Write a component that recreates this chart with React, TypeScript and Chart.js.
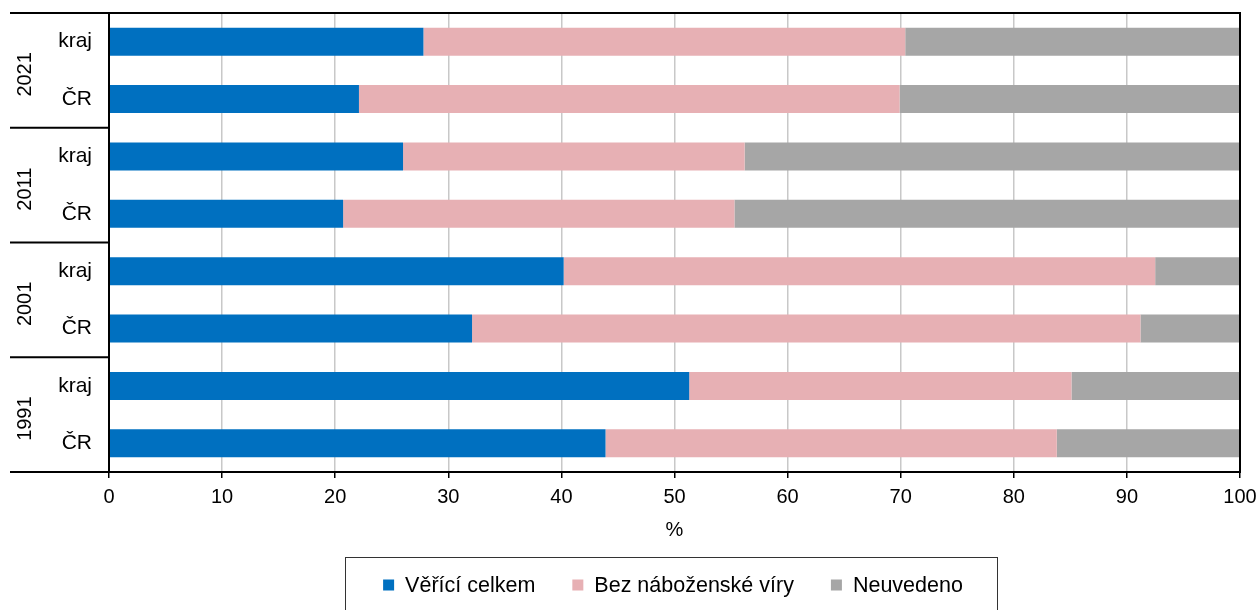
import React, { useEffect, useRef } from "react";
import { Chart, registerables } from "chart.js";

Chart.register(...registerables);

const categories = ["kraj", "ČR", "kraj", "ČR", "kraj", "ČR", "kraj", "ČR"];
const years = ["2021", "2011", "2001", "1991"];
const believers = [27.8, 22.1, 26.0, 20.7, 40.2, 32.1, 51.3, 43.9];
const noReligion = [42.6, 47.8, 30.2, 34.6, 52.3, 59.1, 33.8, 39.9];
const notStated = [29.6, 30.1, 43.8, 44.7, 7.5, 8.8, 14.9, 16.2];
const seriesNames = ["Věřící celkem", "Bez náboženské víry", "Neuvedeno"];
const seriesColors = ["#0070C0", "#E7B0B4", "#A6A6A6"];
const axisTitle = "%";

const FONT = '"Liberation Sans", Arial, sans-serif';

const decorPlugin = {
  id: "decor",
  afterDraw(chart: any) {
    const { ctx, chartArea: a } = chart;
    const y = chart.scales.y;
    ctx.save();
    // frame
    ctx.strokeStyle = "#000";
    ctx.lineWidth = 2;
    ctx.strokeRect(a.left, a.top, a.right - a.left, a.bottom - a.top);
    // group separators
    const groupEdge = (g: number) =>
      g === 0 ? a.top : g === years.length ? a.bottom : y.getPixelForValue(g * 2 - 0.5);
    ctx.beginPath();
    for (let g = 0; g <= years.length; g++) {
      const yy = groupEdge(g);
      ctx.moveTo(10, yy);
      ctx.lineTo(a.left, yy);
    }
    ctx.stroke();
    // year labels
    ctx.fillStyle = "#000";
    ctx.font = `20px ${FONT}`;
    ctx.textAlign = "center";
    ctx.textBaseline = "middle";
    years.forEach((yr, g) => {
      const mid = (groupEdge(g) + groupEdge(g + 1)) / 2 + 4;
      ctx.save();
      ctx.translate(25, mid);
      ctx.rotate(-Math.PI / 2);
      ctx.fillText(yr, 0, 0);
      ctx.restore();
    });
    // legend box
    const boxL = 345;
    const boxR = 997;
    const boxT = 557;
    ctx.lineWidth = 1;
    ctx.strokeStyle = "#333";
    ctx.strokeRect(boxL + 0.5, boxT + 0.5, boxR - boxL, 70);
    ctx.font = `21.5px ${FONT}`;
    const sq = 11;
    const gapSq = 11;
    const gapItem = 37;
    const widths = seriesNames.map((n) => ctx.measureText(n).width);
    const total =
      widths.reduce((s, w) => s + w + sq + gapSq, 0) + gapItem * (seriesNames.length - 1);
    let x = (boxL + boxR) / 2 - total / 2 + 2;
    const ly = 585;
    ctx.textAlign = "left";
    seriesNames.forEach((n, i) => {
      ctx.fillStyle = seriesColors[i];
      ctx.fillRect(x, ly - sq / 2, sq, sq);
      x += sq + gapSq;
      ctx.fillStyle = "#000";
      ctx.fillText(n, x, ly + 1);
      x += widths[i] + gapItem;
    });
    ctx.restore();
  },
};

export default function App() {
  const ref = useRef<HTMLCanvasElement | null>(null);
  useEffect(() => {
    document.body.style.margin = "0";
    if (!ref.current) return;
    const values = [believers, noReligion, notStated];
    const chart = new Chart(ref.current, {
      type: "bar",
      data: {
        labels: categories,
        datasets: values.map((v, i) => ({
          label: seriesNames[i],
          data: v,
          backgroundColor: seriesColors[i],
          borderWidth: 0,
          barPercentage: 0.49,
          categoryPercentage: 1,
        })),
      },
      options: {
        indexAxis: "y",
        animation: false,
        responsive: true,
        maintainAspectRatio: false,
        events: [],
        layout: { padding: { top: 13, right: 20, left: 0, bottom: 0 } },
        plugins: { legend: { display: false }, tooltip: { enabled: false } },
        scales: {
          x: {
            stacked: true,
            min: 0,
            max: 100,
            ticks: {
              stepSize: 10,
              color: "#000",
              font: { family: FONT, size: 20 },
              padding: 7,
              maxRotation: 0,
            },
            grid: {
              color: "#C8C8C8",
              lineWidth: 1.5,
              tickColor: "#000",
              tickLength: 6,
              tickWidth: 1.5,
            },
            border: { display: true, color: "#000", width: 2 },
            title: {
              display: true,
              text: axisTitle,
              color: "#000",
              font: { family: FONT, size: 20 },
              padding: { top: 0, bottom: 68 },
            },
            afterFit(scale: any) {
              scale.height = 138;
              scale.paddingLeft = 0;
              scale.paddingRight = 0;
              scale.paddingTop = 0;
              scale.paddingBottom = 0;
            },
          },
          y: {
            stacked: true,
            ticks: {
              color: "#000",
              font: { family: FONT, size: 21 },
              padding: 17,
            },
            grid: { display: false, drawTicks: false },
            border: { display: false },
            afterFit(scale: any) {
              scale.width = 109;
              scale.paddingLeft = 0;
              scale.paddingRight = 0;
              scale.paddingTop = 0;
              scale.paddingBottom = 0;
            },
          },
        },
      },
      plugins: [decorPlugin],
    });
    return () => chart.destroy();
  }, []);
  return (
    <div style={{ width: 1260, height: 610, position: "relative" }}>
      <canvas ref={ref} />
    </div>
  );
}
